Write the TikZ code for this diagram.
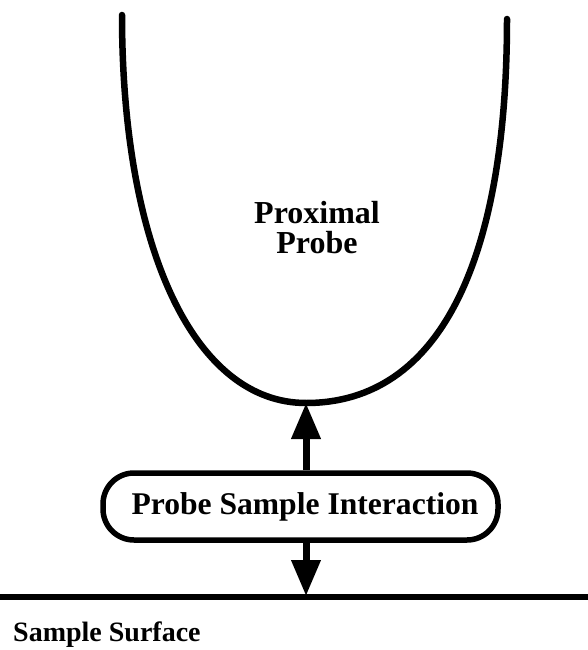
\documentclass[tikz,border=0pt]{standalone}
\usepackage{fontspec}
\setmainfont{Liberation Serif}
\usetikzlibrary{arrows.meta}
\begin{document}
\begin{tikzpicture}[x=1pt,y=-1pt,
  lbl/.style={font=\bfseries, inner sep=0pt},
  pbox/.style={draw, line width=5.5pt, rounded corners=31pt, minimum width=395pt, minimum height=67pt, inner sep=0pt},
  harrow/.style={line width=7pt, -{Triangle[length=36pt,width=28pt]}},
  probe/.style={line width=6.5pt, line cap=round}]
\useasboundingbox (0,0) rectangle (588,650);
% probe
\coordinate (tip) at (306,403);
\draw[probe] (122,15) .. controls (122,250) and (195,403) .. (tip)
  .. controls (440,403) and (507,260) .. (507,19);
\node[lbl, font=\bfseries\fontsize{32}{30}\selectfont, align=center] (prox) at (317,228) {Proximal\\Probe};
% interaction box
\node[pbox, font=\bfseries\fontsize{31.6}{36}\selectfont] (box) at (300.5,506.5) {\hspace{9pt}Probe Sample Interaction};
% surface
\coordinate (sl) at (0,597);
\coordinate (sr) at (588,597);
\draw[line width=5.5pt] (sl) -- (sr);
\coordinate (stip) at (306,596);
\node[lbl, font=\bfseries\fontsize{28}{30}\selectfont, anchor=base west] (surf) at (13,641) {Sample Surface};
% arrows
\draw[harrow] (box.north -| tip) -- (tip);
\draw[harrow] (box.south -| tip) -- (stip);
\end{tikzpicture}
\end{document}
